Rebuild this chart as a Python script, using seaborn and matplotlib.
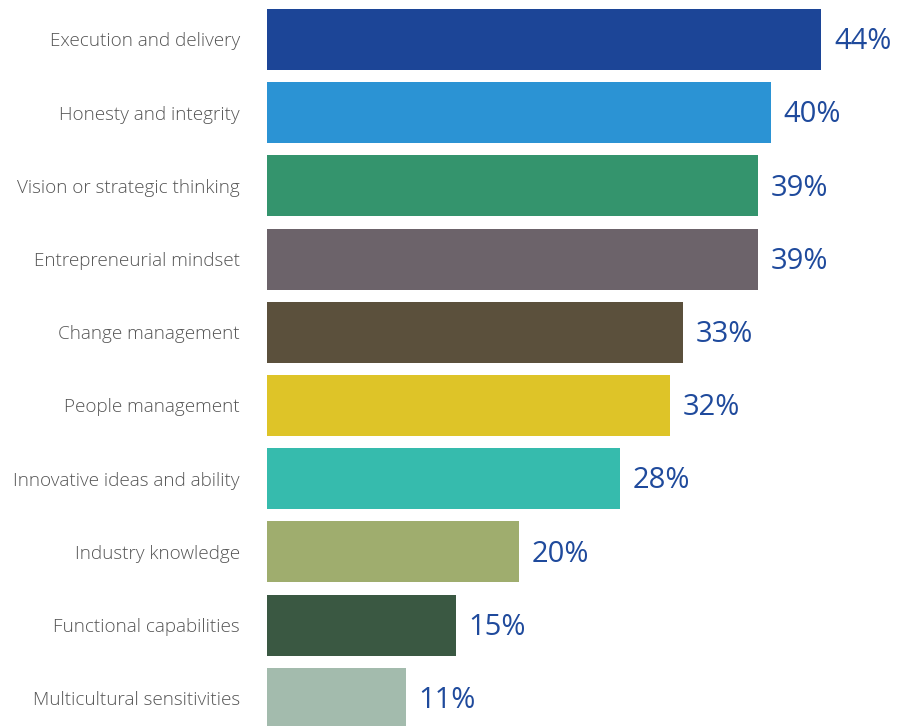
import matplotlib
matplotlib.use("Agg")
import matplotlib.pyplot as plt
import seaborn as sns
import pandas as pd

categories = [
    "Execution and delivery",
    "Honesty and integrity",
    "Vision or strategic thinking",
    "Entrepreneurial mindset",
    "Change management",
    "People management",
    "Innovative ideas and ability",
    "Industry knowledge",
    "Functional capabilities",
    "Multicultural sensitivities",
]
values = [44, 40, 39, 39, 33, 32, 28, 20, 15, 11]
colors = [
    "#1c4597", "#2b93d4", "#34946d", "#6c636a", "#5b503c",
    "#dec428", "#36bbad", "#9fad6e", "#3a5842", "#a3bbad",
]

df = pd.DataFrame({"category": categories, "value": values})

sns.set_theme(style="white")
W, H = 904, 726
fig = plt.figure(figsize=(W / 100, H / 100), dpi=100)

# axes placement in pixels: bars start at x=267, row pitch ~73.2 px
left_px = 267
xscale = 12.6  # px per percentage point
xmax = 50
row = 73.2
top_px = 39.5 - 0.5 * row
bottom_px = 39.5 + 9.5 * row
ax = fig.add_axes([left_px / W, (H - bottom_px) / H,
                   xmax * xscale / W, (bottom_px - top_px) / H])

sns.barplot(data=df, x="value", y="category", hue="category",
            palette=colors, legend=False, width=0.835, saturation=1,
            linewidth=0, ax=ax)

ax.set_xlim(0, xmax)
ax.set_ylim(9.5, -0.5)
ax.set_xlabel("")
ax.set_ylabel("")
ax.set_xticks([])
for s in ax.spines.values():
    s.set_visible(False)
ax.tick_params(axis="y", length=0, pad=19.5)
for lab in ax.get_yticklabels():
    lab.set_fontfamily(["Open Sans", "Liberation Sans"])
    lab.set_fontweight("light")
    lab.set_fontsize(13.6)
    lab.set_color("#555555")

for i, v in enumerate(values):
    ax.text(v + 1.0, i + 0.03, f"{v}%", va="center", ha="left",
            fontsize=21, color="#1f4a9c", family="Open Sans")

fig.savefig("out.png", dpi=100)
